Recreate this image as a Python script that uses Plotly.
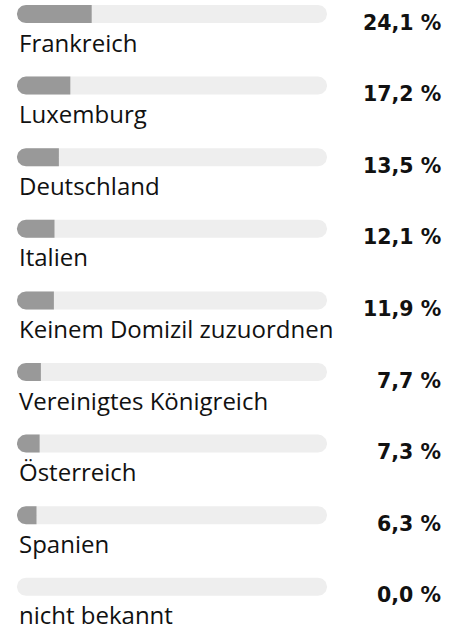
import numpy as np
import plotly.graph_objects as go

# Domizil der Anteile (in Prozent)
countries = [
    "Frankreich",
    "Luxemburg",
    "Deutschland",
    "Italien",
    "Keinem Domizil zuzuordnen",
    "Vereinigtes Königreich",
    "Österreich",
    "Spanien",
    "nicht bekannt",
]
shares = [24.1, 17.2, 13.5, 12.1, 11.9, 7.7, 7.3, 6.3, 0.0]

W, H = 461, 631
TRACK_LEFT, TRACK_PX = 17, 310          # pixel geometry of the 0..100 track
ROW0_PX, ROW_PX = 14, 71.6              # first bar centre and row pitch
BAR_PX = 18
RADIUS_PX = 9

px_x = TRACK_PX / 100                   # pixels per percentage point
x_range = [-TRACK_LEFT / px_x, (W - TRACK_LEFT) / px_x]
y_range = [(H - ROW0_PX) / ROW_PX, -ROW0_PX / ROW_PX]

rx = RADIUS_PX / px_x                   # corner radius in x data units
half_h = BAR_PX / 2 / ROW_PX

TRACK_COLOR = "#eeeeee"
FILL_COLOR = "#999999"


def capsule(y, x0, x1, round_right=True, n=24):
    """Outline of a horizontal bar with a round left end (and optionally right end)."""
    t = np.linspace(np.pi / 2, 3 * np.pi / 2, n)
    left_x = x0 + rx + rx * np.cos(t)
    left_y = y - half_h * np.sin(t)
    if round_right:
        t2 = np.linspace(-np.pi / 2, np.pi / 2, n)
        right_x = x1 - rx + rx * np.cos(t2)
        right_y = y - half_h * np.sin(t2)
    else:
        right_x = np.array([x1, x1])
        right_y = np.array([y + half_h, y - half_h])
    xs = np.concatenate([left_x, right_x, left_x[:1]])
    ys = np.concatenate([left_y, right_y, left_y[:1]])
    return xs, ys


fig = go.Figure()

for i, v in enumerate(shares):
    xs, ys = capsule(i, 0, 100)
    fig.add_trace(go.Scatter(x=xs, y=ys, fill="toself", fillcolor=TRACK_COLOR,
                             mode="lines", line=dict(width=0, color=TRACK_COLOR),
                             hoverinfo="skip"))
    if v > 0:
        xs, ys = capsule(i, 0, v, round_right=False)
        fig.add_trace(go.Scatter(x=xs, y=ys, fill="toself", fillcolor=FILL_COLOR,
                                 mode="lines", line=dict(width=0, color=FILL_COLOR),
                                 name=countries[i], hoveron="fills"))

label_font = dict(family="Open Sans", size=24, color="#111111")
value_font = dict(family="DejaVu Sans", size=20.5, color="#111111", weight="bold")

for i, (name, v) in enumerate(zip(countries, shares)):
    fig.add_annotation(x=0, y=i + 28.1 / ROW_PX, xref="x", yref="y", text=name,
                       showarrow=False, xanchor="left", yanchor="middle", font=label_font)
    fig.add_annotation(x=443 / W, y=i + 8.5 / ROW_PX, xref="paper", yref="y",
                       text=f"{v:.1f}".replace(".", ",") + " %",
                       showarrow=False, xanchor="right", yanchor="middle", font=value_font)

fig.update_layout(
    width=W, height=H,
    margin=dict(l=0, r=0, t=0, b=0),
    paper_bgcolor="white", plot_bgcolor="white",
    showlegend=False,
    xaxis=dict(range=x_range, visible=False, fixedrange=True),
    yaxis=dict(range=y_range, visible=False, fixedrange=True),
)

fig.write_html("out.html", config={"displayModeBar": False})
